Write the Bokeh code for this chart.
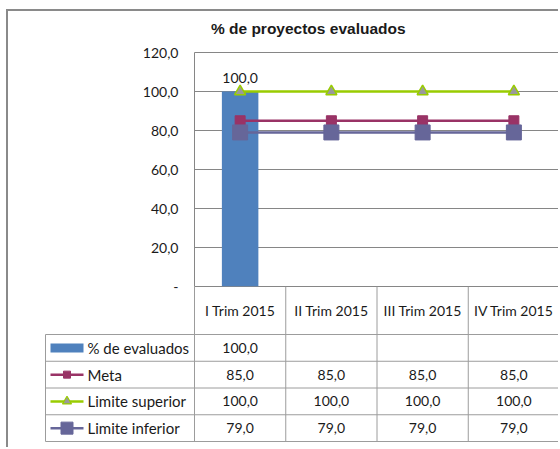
import numpy as np
from bokeh.plotting import figure
from bokeh.models import Range1d, FixedTicker, CustomJSTickFormatter, ColumnDataSource
from bokeh.core.properties import value
from bokeh.embed import file_html
from bokeh.resources import INLINE

# ---------------- data ----------------
title_text = "% de proyectos evaluados"
categories = ["I Trim 2015", "II Trim 2015", "III Trim 2015", "IV Trim 2015"]
series_names = ["% de evaluados", "Meta", "Limite superior", "Limite inferior"]
evaluados = [100.0, None, None, None]
meta = [85.0, 85.0, 85.0, 85.0]
limite_superior = [100.0, 100.0, 100.0, 100.0]
limite_inferior = [79.0, 79.0, 79.0, 79.0]
y_ticks = [0, 20, 40, 60, 80, 100, 120]

# ---------------- styles ----------------
C_BAR = "#4F81BD"
C_META = "#993366"
C_SUP = "#99CC00"
C_SUP_FILL = "#9A9A9A"
C_INF = "#666699"
C_GRID = "#868686"
C_TABLE = "#9C9C9C"
C_BORDER = "#8a8a8a"
FONT = "Lato"
TXT = "#1a1a1a"


def fmt(v):
    return "" if v is None else ("%.1f" % v).replace(".", ",")


FIG_W = 552
LEFT = 186          # canvas px to first category column
COLS_W = 365
TITLE_H = 34
OVERLAP = 12        # chart's bottom border lies under the table strip

# ---------------- title strip ----------------
figT = figure(width=FIG_W, height=TITLE_H, x_range=Range1d(0, 1), y_range=Range1d(0, 1),
              output_backend="svg", toolbar_location=None,
              x_axis_location=None, y_axis_location=None, min_border=0,
              styles={"margin-left": "6px", "margin-top": "9px",
                      "border-left": "2px solid " + C_BORDER,
                      "border-top": "2px solid " + C_BORDER})
figT.grid.visible = False
figT.outline_line_color = None
figT.text(x=[0.543], y=[0.5], text=[title_text], text_align="center", text_baseline="middle",
          text_font=value("Liberation Sans"), text_font_style="bold",
          text_font_size=value("15.5px"), text_color=TXT)

# ---------------- chart ----------------
figA = figure(width=FIG_W, height=243 + OVERLAP, x_range=categories, y_range=Range1d(0, 120),
              output_backend="svg", toolbar_location=None, x_axis_location=None,
              min_border_left=LEFT, min_border_right=FIG_W - LEFT - COLS_W,
              min_border_top=9, min_border_bottom=OVERLAP,
              styles={"margin-left": "6px", "border-left": "2px solid " + C_BORDER})

ticker = FixedTicker(ticks=y_ticks)
ax = figA.yaxis[0]
ax.ticker = ticker
ax.formatter = CustomJSTickFormatter(code="return tick == 0 ? '-' : tick.toFixed(1).replace('.', ',');")
ax.axis_line_color = None
ax.major_tick_line_color = None
ax.minor_tick_line_color = None
ax.major_tick_out = 0
ax.major_tick_in = 0
ax.minor_tick_out = 0
ax.major_label_standoff = 16
ax.major_label_text_font = FONT
ax.major_label_text_font_size = "14px"
ax.major_label_text_color = TXT
figA.ygrid.ticker = ticker
figA.ygrid.grid_line_color = C_GRID
figA.xgrid.visible = False
figA.outline_line_color = C_GRID
figA.outline_line_width = 1

src = ColumnDataSource(dict(x=categories,
                            ev=np.array(evaluados, dtype=float),
                            meta=meta, sup=limite_superior, inf=limite_inferior))
figA.vbar(x="x", top="ev", width=0.4, source=src, fill_color=C_BAR, line_color=None)

figA.line(x="x", y="meta", source=src, line_color=C_META, line_width=2.5)
figA.scatter(x="x", y="meta", source=src, marker="square", size=10,
             fill_color=C_META, line_color=C_META)
figA.line(x="x", y="sup", source=src, line_color=C_SUP, line_width=2.5)
figA.scatter(x="x", y="sup", source=src, marker="triangle", size=11,
             fill_color=C_SUP_FILL, line_color=C_SUP, line_width=1.5)
figA.line(x="x", y="inf", source=src, line_color=C_INF, line_width=2.5)
figA.scatter(x="x", y="inf", source=src, marker="square", size=15,
             fill_color=C_INF, line_color=C_INF)

lab_idx = [i for i, v in enumerate(evaluados) if v is not None]
figA.text(x=[categories[i] for i in lab_idx], y=[evaluados[i] for i in lab_idx],
          text=[fmt(evaluados[i]) for i in lab_idx], y_offset=-9,
          text_align="center", text_baseline="bottom",
          text_font=value(FONT), text_font_size=value("14px"), text_color=TXT)

# ---------------- data table ----------------
col_px = COLS_W / 4.0
header_h = 48
row_h = 26.75
table_h = 161


def ux(px):
    return (px - LEFT) / col_px


figB = figure(width=FIG_W, height=table_h,
              x_range=Range1d(ux(0), ux(FIG_W)), y_range=Range1d(-table_h, 0),
              output_backend="svg", toolbar_location=None,
              x_axis_location=None, y_axis_location=None, min_border=0,
              styles={"margin-left": "6px", "margin-top": "-%dpx" % OVERLAP,
                      "border-left": "2px solid " + C_BORDER})
figB.grid.visible = False
figB.outline_line_color = None
figB.background_fill_color = None
figB.border_fill_color = None

n = len(categories)
n_rows = len(series_names)
label_left = ux(LEFT - 149)
bottom = -header_h - n_rows * row_h

# vertical lines
vx0 = [float(i) for i in range(n + 1)] + [label_left]
vy0 = [0.0] * (n + 1) + [-header_h]
vy1 = [bottom] * (n + 2)
figB.segment(x0=vx0, y0=vy0, x1=vx0, y1=vy1, line_color=C_TABLE, line_width=1)
# horizontal lines
hy = [-header_h - r * row_h for r in range(n_rows + 1)]
figB.segment(x0=[label_left] * len(hy), y0=hy, x1=[float(n)] * len(hy), y1=hy,
             line_color=C_TABLE, line_width=1)

# header
figB.text(x=[i + 0.5 for i in range(n)], y=[-header_h / 2.0] * n, text=categories,
          text_align="center", text_baseline="middle",
          text_font=value(FONT), text_font_size=value("14px"), text_color=TXT)

# cells
all_series = [evaluados, meta, limite_superior, limite_inferior]
cx, cy, ct = [], [], []
for r, s in enumerate(all_series):
    for i, v in enumerate(s):
        if v is None:
            continue
        cx.append(i + 0.5)
        cy.append(-header_h - (r + 0.5) * row_h)
        ct.append(fmt(v))
figB.text(x=cx, y=cy, text=ct, text_align="center", text_baseline="middle",
          text_font=value(FONT), text_font_size=value("14px"), text_color=TXT)

# row labels
row_y = [-header_h - (r + 0.5) * row_h for r in range(n_rows)]
lab_x = ux(LEFT - 107)
figB.text(x=[lab_x] * n_rows, y=row_y, text=series_names, text_align="left",
          text_baseline="middle",
          text_font=value(FONT), text_font_size=value("15px"), text_color=TXT)

# legend keys
kx0 = ux(LEFT - 144)
kx1 = ux(LEFT - 111)
kxm = (kx0 + kx1) / 2.0
figB.quad(left=[kx0], right=[kx1], top=[row_y[0] + 4.5], bottom=[row_y[0] - 4.5],
          fill_color=C_BAR, line_color=None)
figB.segment(x0=[kx0], y0=[row_y[1]], x1=[kx1], y1=[row_y[1]], line_color=C_META, line_width=2.5)
figB.scatter(x=[kxm], y=[row_y[1]], marker="square", size=7, fill_color=C_META, line_color=C_META)
figB.segment(x0=[kx0], y0=[row_y[2]], x1=[kx1], y1=[row_y[2]], line_color=C_SUP, line_width=2.5)
figB.scatter(x=[kxm], y=[row_y[2]], marker="triangle", size=9, fill_color=C_SUP_FILL,
             line_color=C_SUP, line_width=1.2)
figB.segment(x0=[kx0], y0=[row_y[3]], x1=[kx1], y1=[row_y[3]], line_color=C_INF, line_width=2.5)
figB.scatter(x=[kxm], y=[row_y[3]], marker="square", size=12, fill_color=C_INF, line_color=C_INF)

open("out.html", "w").write(file_html([figT, figA, figB], INLINE))
